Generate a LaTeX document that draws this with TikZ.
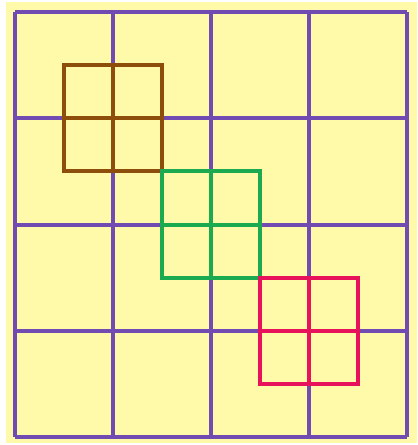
\documentclass[tikz,border=0pt]{standalone}
\begin{document}
\begin{tikzpicture}[x=1pt,y=-1pt,
  gridline/.style={draw=gridpurple,line width=4pt},
  sq/.style={line width=4pt,line cap=rect}]
\definecolor{bgyellow}{RGB}{255,250,170}
\definecolor{gridpurple}{RGB}{113,74,178}
\definecolor{sqbrown}{RGB}{140,78,10}
\definecolor{sqgreen}{RGB}{28,170,80}
\definecolor{sqred}{RGB}{232,18,92}
\useasboundingbox (0,0) rectangle (418,445);
\fill[white] (0,0) rectangle (418,445);
\fill[bgyellow] (6,2) rectangle (417,443);
% purple grid
\foreach \x in {15,113,211,309,407} \draw[gridline] (\x,12) -- (\x,437);
\foreach \y in {12,118.25,224.5,330.75,437} \draw[gridline] (15,\y) -- (407,\y);
% brown
\draw[sq,sqbrown] (64,65.1) rectangle (162,171.4);
\draw[sq,sqbrown] (113,65.1) -- (113,171.4) (64,118.25) -- (162,118.25);
% green
\draw[sq,sqgreen] (162,171.4) rectangle (260,277.6);
\draw[sq,sqgreen] (211,171.4) -- (211,277.6) (162,224.5) -- (260,224.5);
% red
\draw[sq,sqred] (260,277.6) rectangle (358,383.9);
\draw[sq,sqred] (309,277.6) -- (309,383.9) (260,330.75) -- (358,330.75);
\end{tikzpicture}
\end{document}
